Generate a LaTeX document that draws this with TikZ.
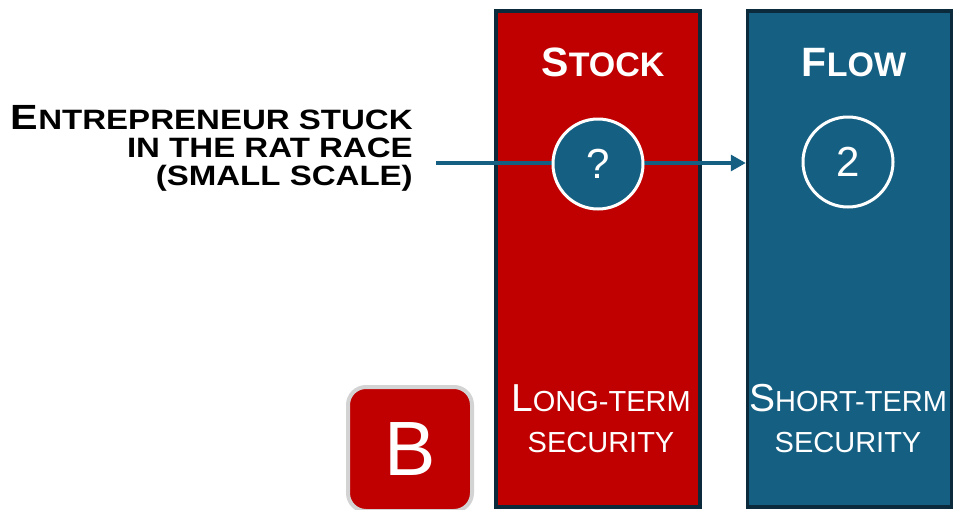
\documentclass[tikz,border=0pt]{standalone}
\usepackage{fontspec}
\setmainfont{Liberation Sans}
\usepackage{tikz}
\usetikzlibrary{positioning,arrows.meta}
\definecolor{stockred}{HTML}{C00000}
\definecolor{flowblue}{HTML}{156082}
\definecolor{edgenavy}{HTML}{0B2A3C}
\definecolor{ringgray}{HTML}{D3D3D3}

\begin{document}
\begin{tikzpicture}[x=1pt,y=-1pt,
    colbox/.style={draw=edgenavy, line width=3.5pt, minimum width=204pt, minimum height=496pt, inner sep=0pt},
    disc/.style={circle, draw=white, line width=3pt, fill=flowblue, minimum size=90pt, inner sep=0pt, text=white, font=\fontsize{42}{42}\selectfont},
    heading/.style={anchor=base, text=white, inner sep=0pt, font=\bfseries\fontsize{34}{34}\selectfont},
    caption/.style={anchor=north, align=center, text=white, inner sep=0pt, font=\fontsize{29}{41}\selectfont}]
    \useasboundingbox (0,0) rectangle (953,509);
    % the two columns
    \node[colbox, fill=stockred] (stock) at (598,259) {};
    \node[colbox, fill=flowblue] (flow) at (849.5,259) {};
    \node[heading] (stocktitle) at (603,76) {{\fontsize{41}{41}\selectfont S}TOCK};
    \node[heading] (flowtitle) at (854,76) {{\fontsize{41}{41}\selectfont F}LOW};
    % who is stuck
    \node[anchor=north east, align=right, inner sep=0pt, xscale=1.18, transform shape,
        font=\bfseries\fontsize{28}{28.3}\selectfont] (player) at (413,105)
        {{\fontsize{35}{35}\selectfont E}NTREPRENEUR STUCK\\IN THE RAT RACE\\(SMALL SCALE)};
    \coordinate (from) at (436,163);
    \draw[flowblue, line width=3.3pt, -{Triangle[length=15pt,width=16pt]}] (from) -- (from -| flow.west);
    \node[disc] (unknown) at (598,164) {?};
    \node[disc] (two) at (848,162) {2};
    % bottom labels
    \node[caption] (stocknote) at (601,384) {{\fontsize{39}{39}\selectfont L}ONG-TERM\\SECURITY};
    \node[caption] (flownote) at (848,384) {{\fontsize{39}{39}\selectfont S}HORT-TERM\\SECURITY};
    \node[draw=ringgray, line width=4pt, fill=stockred, rounded corners=18pt, minimum size=124pt,
        inner sep=0pt, text=white, font=\fontsize{77}{77}\selectfont] (badge) at (410,449) {B};
\end{tikzpicture}
\end{document}
